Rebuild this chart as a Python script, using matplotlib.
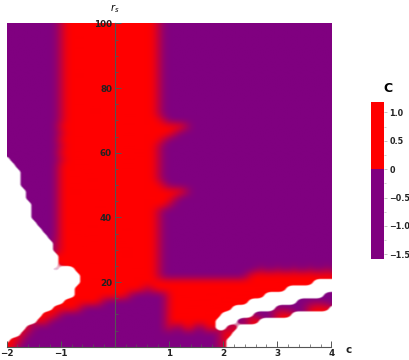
import numpy as np
import matplotlib
matplotlib.use("Agg")
import matplotlib.pyplot as plt
from matplotlib.colors import LinearSegmentedColormap, Normalize, to_rgb
from matplotlib.cm import ScalarMappable
from matplotlib.ticker import MultipleLocator

# grid of the density plot: c across, r_s from 100 (top row) down to 0
c_min, c_max, c_step = -2.0, 4.0, 0.1
r_min, r_max, r_step = 0, 100, 2

# sign of C, one run-length row per r_s value (top to bottom)
# r = red (C > 0), p = purple (C < 0), m = blurred edge, . = no value (white)
rows_top = ["p10 m1 r17 m1 p32"] * 15          # r_s = 100 ... 72
rows_mid = [
    "p10 m1 r18 m1 p31",                        # 70
    "p10 r23 m1 p27",                           # 68
    "p10 m1 r20 m1 p29",                        # 66
    "p10 r19 m1 p31",                           # 64
    "p10 m1 r17 m1 p32",                        # 62
    "p10 r18 m1 p32",                           # 60
    ".1 p9 m1 r17 m1 p32",                      # 58
    ".2 p8 r18 m1 p32",                         # 56
    ".3 p7 r18 m1 p32",                         # 54
    ".3 p7 r18 m1 p32",                         # 52
    ".3 p7 r19 m1 p31",                         # 50
    ".4 p6 r23 m1 p27",                         # 48
    ".4 p6 r21 m1 p29",                         # 46
    ".5 p5 r20 m1 p30",                         # 44
    ".5 p5 r18 m1 p32",                         # 42
    ".5 p5 r18 m1 p32",                         # 40
    ".6 p4 r18 m1 p32",                         # 38
    ".7 p3 r18 m1 p32",                         # 36
    ".8 p2 r18 m1 p32",                         # 34
    ".9 p1 r18 m1 p32",                         # 32
    ".9 p1 r18 m1 p32",                         # 30
    ".10 r18 m1 p32",                           # 28
    ".10 r18 m1 p32",                           # 26
]
rows_low = [
    ".9 p1 .3 r15 m1 p17 p1 m1 p2 m1 p2 m1 p2 m1 p2 m1 p1",   # 24
    ".14 r14 m1 p16 r16",                       # 22
    ".14 r43 .4",                               # 20
    ".13 r13 p1 r25 .9",                        # 18
    ".13 r10 p7 r18 .11 p2",                    # 16
    ".11 r7 p12 r15 .9 p7",                     # 14
    ".9 r5 p16 r12 .8 p6 r4 .1",                # 12
    ".7 r3 p20 r10 .6 p4 r3 .8",                # 10
    ".6 r2 p22 r9 .4 p2 r2 .14",                # 8
    ".4 r1 p25 r1 p2 r2 p2 r2 .2 p1 r1 .18",    # 6
    ".3 r1 p36 r2 .19",                         # 4
    ".1 r2 p37 r1 .20",                         # 2
    "r2 p38 r1 .20",                            # 0
]
rows = rows_top + rows_mid + rows_low

code_value = {"r": 1.0, "p": -1.0, "m": 0.0, ".": np.nan}

cbar_min, cbar_max = -1.58, 1.19
cbar_ticks = [-1.5, -1.0, -0.5, 0, 0.5, 1.0]
cbar_labels = ["\u22121.5", "\u22121.0", "\u22120.5", "0", "0.5", "1.0"]
x_ticks = [-2, -1, 1, 2, 3, 4]
y_ticks = [20, 40, 60, 80, 100]

purple = "#800080"
red = "#ff0000"


def decode(row):
    out = []
    for run in row.split():
        out += [code_value[run[0]]] * int(run[1:])
    return out


def box_blur(a, wy, wx):
    # moving average over wy rows and wx columns, edges held
    for axis, w in ((0, wy), (1, wx)):
        pad = w // 2
        n = a.shape[axis]
        widths = [(pad, pad) if k == axis else (0, 0) for k in range(2)]
        a = np.pad(a, widths, mode="edge")
        cs = np.insert(np.cumsum(a, axis=axis), 0, 0, axis=axis)
        a = (np.take(cs, np.arange(w, w + n), axis=axis)
             - np.take(cs, np.arange(n), axis=axis)) / w
    return a


Z = np.array([decode(r) for r in rows])
assert Z.shape == (51, 61)

# smooth rendering like Mathematica's shaded mesh: colours blend, holes stay sharp
k = 10
valid = np.repeat(np.repeat(np.isfinite(Z).astype(float), k, 0), k, 1)
frac = np.nan_to_num((Z + 1) / 2)
frac = np.repeat(np.repeat(frac, k, 0), k, 1)
vb = box_blur(box_blur(valid, 9, 21), 5, 9)
fb = box_blur(box_blur(frac * valid, 13, 21), 13, 21)
wb = box_blur(box_blur(valid, 13, 21), 13, 21)
fb = np.clip(fb / np.maximum(wb, 1e-6), 0, 1)[..., None]
rgb = np.array(to_rgb(purple)) * (1 - fb) + np.array(to_rgb(red)) * fb
alpha = np.clip((vb - 0.5) * 5 + 0.5, 0, 1)[..., None]
rgba = np.concatenate([rgb, alpha], axis=2)

fig = plt.figure(figsize=(4.09, 3.60), dpi=100)
ax = fig.add_axes([0.0161, 0.037, 0.794, 0.898])

ax.imshow(rgba,
          extent=[c_min - c_step / 2, c_max + c_step / 2,
                  r_min - r_step / 2, r_max + r_step / 2],
          origin="upper", aspect="auto", interpolation="antialiased")
ax.set_xlim(c_min, c_max)
ax.set_ylim(r_min, r_max)

# axes through the origin, Mathematica style
ax.spines["top"].set_visible(False)
ax.spines["right"].set_visible(False)
ax.spines["left"].set_position(("data", 0))
ax.spines["bottom"].set_position(("data", 0))
for s in ["left", "bottom"]:
    ax.spines[s].set_color("#555555")
    ax.spines[s].set_linewidth(0.8)
ax.set_xticks(x_ticks)
ax.set_yticks(y_ticks)
ax.xaxis.set_minor_locator(MultipleLocator(0.2))
ax.yaxis.set_minor_locator(MultipleLocator(5))
ax.tick_params(which="both", direction="in", color="#555555",
               labelsize=6.3, labelcolor="#222222", pad=2)
ax.tick_params(which="major", length=4, width=0.7)
ax.tick_params(which="minor", length=2.2, width=0.5)
for lab in ax.get_xticklabels() + ax.get_yticklabels():
    lab.set_fontweight("bold")

ax.text(0, 104.7, "$r_s$", ha="center", va="center", fontsize=7, clip_on=False)
ax.text(4.27, -1.0, "c", ha="left", va="center", fontsize=7.5,
        fontweight="bold", color="#222222", clip_on=False)

# colour legend
z0 = (0 - cbar_min) / (cbar_max - cbar_min)
cmap = LinearSegmentedColormap.from_list(
    "pr", [(0, purple), (z0 - 0.002, purple), (z0 + 0.002, red), (1, red)], N=1024)
norm = Normalize(cbar_min, cbar_max)
cax = fig.add_axes([0.907, 0.281, 0.032, 0.437])
cb = fig.colorbar(ScalarMappable(norm=norm, cmap=cmap), cax=cax, ticks=cbar_ticks)
cb.set_ticklabels(cbar_labels)
cb.outline.set_visible(False)
cb.ax.yaxis.set_minor_locator(MultipleLocator(0.25))
cax.tick_params(which="both", color="#aaaaaa", labelsize=5.8,
                labelcolor="#222222", pad=1.5)
cax.tick_params(which="major", length=2.5, width=0.5)
cax.tick_params(which="minor", length=1.5, width=0.4)
for lab in cax.get_yticklabels():
    lab.set_fontweight("bold")
fig.text(0.948, 0.755, "C", ha="center", va="center", fontsize=9, fontweight="bold")

fig.savefig("out.png", dpi=100)
